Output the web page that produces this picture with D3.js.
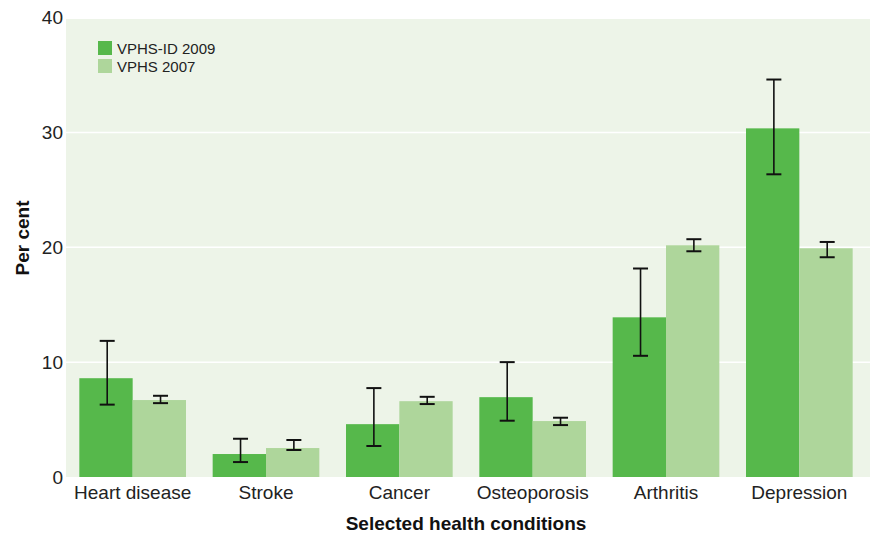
<!DOCTYPE html>
<html>
<head>
<meta charset="utf-8">
<script src="https://cdn.jsdelivr.net/npm/d3@7"></script>
<style>
  html, body { margin: 0; padding: 0; background: #fff; }
  svg { display: block; font-family: "Liberation Sans", Arial, sans-serif; }
</style>
</head>
<body>
<svg id="chart" width="870" height="535"></svg>
<script>
// Health conditions and survey results (per cent, with 95% confidence intervals)
const categories = ["Heart disease", "Stroke", "Cancer", "Osteoporosis", "Arthritis", "Depression"];
const seriesNames = ["VPHS-ID 2009", "VPHS 2007"];
const vphsId2009 = [8.6, 2.0, 4.6, 6.95, 13.9, 30.35];
const vphsId2009Low = [6.3, 1.3, 2.7, 4.9, 10.55, 26.35];
const vphsId2009High = [11.85, 3.33, 7.74, 10.0, 18.15, 34.6];
const vphs2007 = [6.7, 2.52, 6.6, 4.87, 20.17, 19.91];
const vphs2007Low = [6.43, 2.35, 6.35, 4.52, 19.65, 19.13];
const vphs2007High = [7.07, 3.22, 6.98, 5.16, 20.7, 20.46];
const yTicks = [0, 10, 20, 30, 40];

const colors = ["#56b84b", "#aed69b"];
const svg = d3.select("#chart");
const plotLeft = 66, plotRight = 866, plotTop = 19, plotBottom = 477;

const x = d3.scaleBand().domain(categories).range([plotLeft, plotRight]).paddingInner(0.2).paddingOuter(0.1);
const xs = d3.scaleBand().domain(seriesNames).range([0, x.bandwidth()]);
const y = d3.scaleLinear().domain([0, 40]).range([plotBottom, 17.5]);

// plot background
svg.append("rect").attr("x", plotLeft).attr("y", plotTop)
  .attr("width", plotRight - plotLeft + 4).attr("height", plotBottom - plotTop).attr("fill", "#edf4e8");

// gridlines
svg.append("g").selectAll("line").data(yTicks.filter(d => d > 0 && d < 40)).join("line")
  .attr("x1", plotLeft).attr("x2", plotRight + 4).attr("y1", d => y(d)).attr("y2", d => y(d))
  .attr("stroke", "#fff").attr("stroke-width", 1.5);

// y axis labels
const yAxis = svg.append("g").attr("transform", `translate(${plotLeft},0)`)
  .call(d3.axisLeft(y).tickValues(yTicks).tickSize(0).tickPadding(3));
yAxis.select(".domain").remove();
yAxis.selectAll("text").attr("font-size", 19).attr("fill", "#222").attr("font-family", "Liberation Sans, Arial, sans-serif");

// bars
const rows = categories.map((c, i) => ({
  cat: c,
  vals: [
    { s: seriesNames[0], v: vphsId2009[i], lo: vphsId2009Low[i], hi: vphsId2009High[i], c: colors[0] },
    { s: seriesNames[1], v: vphs2007[i], lo: vphs2007Low[i], hi: vphs2007High[i], c: colors[1] }
  ]
}));

const groups = svg.append("g").selectAll("g").data(rows).join("g")
  .attr("transform", d => `translate(${x(d.cat)},0)`);

groups.selectAll("rect").data(d => d.vals).join("rect")
  .attr("x", d => xs(d.s)).attr("width", xs.bandwidth())
  .attr("y", d => y(d.v)).attr("height", d => y(0) - y(d.v))
  .attr("fill", d => d.c);

// error bars
const eb = groups.selectAll("g.err").data(d => d.vals).join("g").attr("class", "err")
  .attr("transform", d => `translate(${xs(d.s) + xs.bandwidth() / 2 + 1.2},0)`);
eb.append("line").attr("x1", 0).attr("x2", 0).attr("y1", d => y(d.hi)).attr("y2", d => y(d.lo))
  .attr("stroke", "#111").attr("stroke-width", 1.6);
eb.append("line").attr("x1", -7.5).attr("x2", 7.5).attr("y1", d => y(d.hi)).attr("y2", d => y(d.hi))
  .attr("stroke", "#111").attr("stroke-width", 2);
eb.append("line").attr("x1", -7.5).attr("x2", 7.5).attr("y1", d => y(d.lo)).attr("y2", d => y(d.lo))
  .attr("stroke", "#111").attr("stroke-width", 2);

// x axis labels
const xAxis = svg.append("g").attr("transform", `translate(0,${plotBottom})`)
  .call(d3.axisBottom(x).tickSize(0).tickPadding(9));
xAxis.select(".domain").remove();
xAxis.selectAll("text").attr("font-size", 19).attr("fill", "#222").attr("font-family", "Liberation Sans, Arial, sans-serif");

// axis titles
svg.append("text").attr("x", (plotLeft + plotRight) / 2).attr("y", 530).attr("text-anchor", "middle")
  .attr("font-size", 19).attr("font-weight", "bold").attr("fill", "#111").text("Selected health conditions");
svg.append("text").attr("transform", "translate(29,238) rotate(-90)").attr("text-anchor", "middle")
  .attr("font-size", 19).attr("font-weight", "bold").attr("fill", "#111").text("Per cent");

// legend
const legend = svg.append("g").attr("transform", "translate(98,41)");
const li = legend.selectAll("g").data(seriesNames).join("g").attr("transform", (d, i) => `translate(0,${i * 18})`);
li.append("rect").attr("width", 14).attr("height", 14).attr("fill", (d, i) => colors[i]);
li.append("text").attr("x", 19).attr("y", 12.5).attr("font-size", 15).attr("fill", "#222").text(d => d);
</script>
</body>
</html>
